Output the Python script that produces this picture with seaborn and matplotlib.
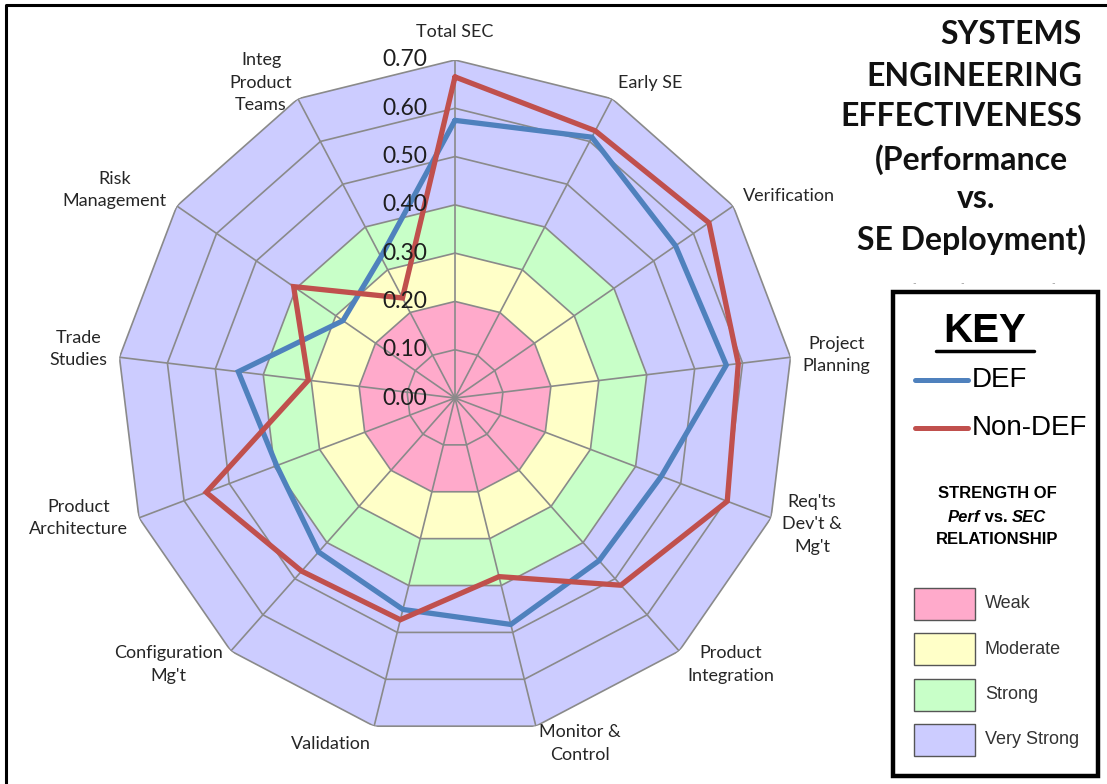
import numpy as np
import pandas as pd
import matplotlib
matplotlib.use("Agg")
import matplotlib.pyplot as plt
import seaborn as sns
from matplotlib.patches import Rectangle
from matplotlib.lines import Line2D

# ---------------- data ----------------
categories = ["Total SEC", "Early SE", "Verification", "Project\nPlanning",
              "Req'ts\nDev't &\nMg't", "Product\nIntegration", "Monitor &\nControl",
              "Validation", "Configuration\nMg't", "Product\nArchitecture",
              "Trade\nStudies", "Risk\nManagement", "Integ\nProduct\nTeams"]
def_values = [0.575, 0.610, 0.555, 0.566, 0.457, 0.450, 0.483,
              0.451, 0.426, 0.395, 0.452, 0.282, 0.330]
nondef_values = [0.665, 0.625, 0.639, 0.591, 0.603, 0.518, 0.381,
                 0.473, 0.479, 0.551, 0.306, 0.406, 0.234]
series_names = ["DEF", "Non-DEF"]
series_colors = {"DEF": "#4F81BD", "Non-DEF": "#C0504D"}
radial_ticks = [0.00, 0.10, 0.20, 0.30, 0.40, 0.50, 0.60, 0.70]
radial_labels = ["0.00", "0.10", "0.20", "0.30", "0.40", "0.50", "0.60", "0.70"]
band_names = ["Weak", "Moderate", "Strong", "Very Strong"]
band_upper = [0.20, 0.30, 0.40, 0.70]
band_colors = ["#FFAACB", "#FFFFC8", "#C8FFC8", "#CCCCFF"]
title_lines = ["SYSTEMS", "ENGINEERING", "EFFECTIVENESS", "(Performance", "vs.", "SE Deployment)"]

# ---------------- figure ----------------
sns.set_theme(style="white")
plt.rcParams['font.family'] = ['Lato', 'DejaVu Sans']

W, H = 1107, 784
fig = plt.figure(figsize=(W / 100, H / 100), dpi=100)
fig.patch.set_facecolor("white")
PX = 0.72  # points per pixel at 100 dpi


def fx(x):
    return x / W


def fy(y):
    return 1 - y / H


cx, cy, R = 455, 398, 338
ax = fig.add_axes([fx(cx - R), fy(cy + R), 2 * R / W, 2 * R / H], projection="polar")
ax.set_theta_zero_location("N")
ax.set_theta_direction(-1)
ax.patch.set_alpha(0)

N = len(categories)
theta = np.arange(N) * 2 * np.pi / N
theta_closed = np.append(theta, 2 * np.pi)

# bands
for upper, col in sorted(zip(band_upper, band_colors), reverse=True):
    ax.fill(theta_closed, [upper] * (N + 1), color=col, linewidth=0, zorder=1)

grid_col = "#8A8A8A"
for r in radial_ticks[1:]:
    ax.plot(theta_closed, [r] * (N + 1), color=grid_col, lw=1.2, zorder=2)
for t in theta:
    ax.plot([t, t], [0, radial_ticks[-1]], color=grid_col, lw=1.2, zorder=2)

# series
df = pd.DataFrame({
    "theta": np.concatenate([theta_closed, theta_closed]),
    "value": def_values + [def_values[0]] + nondef_values + [nondef_values[0]],
    "series": ["DEF"] * (N + 1) + ["Non-DEF"] * (N + 1),
})
sns.lineplot(data=df, x="theta", y="value", hue="series", hue_order=series_names,
             palette=series_colors, sort=False, estimator=None, linewidth=3.8,
             ax=ax, legend=False, zorder=4)
for ln in ax.lines[-2:]:
    ln.set_solid_joinstyle("miter")

ax.set_ylim(0, radial_ticks[-1])
ax.grid(False)
ax.set_xticks([])
ax.set_yticks([])
ax.set_xlabel("")
ax.set_ylabel("")
ax.spines["polar"].set_visible(False)

# radial labels
for r, lab in zip(radial_ticks, radial_labels):
    ax.annotate(lab, xy=(0, r), xytext=(-28 * PX, 0), textcoords="offset points",
                ha="right", va="center", fontsize=16.5, color="#1E1E1E", zorder=6)

# category labels
for t, cat in zip(theta, categories):
    s, c = np.sin(t), np.cos(t)
    if abs(s) < 0.2:
        ha = "center"
        va = "bottom" if c > 0 else "top"
        off = (0, 20 * PX * np.sign(c))
    else:
        ha = "left" if s > 0 else "right"
        va = "center"
        off = (12 * PX * s, 18 * PX * c + (6 * PX if s < -0.2 and abs(c) < 0.7 else 0))
    ax.annotate(cat, xy=(t, radial_ticks[-1]), xytext=off,
                textcoords="offset points", ha=ha, va=va, fontsize=13,
                color="#262626", multialignment="center", linespacing=1.5,
                annotation_clip=False)

# ---------------- title ----------------
title_pos = [(1082, 35, "right"), (1082, 76, "right"), (1082, 117, "right"),
             (1068, 160, "right"), (976, 199, "center"), (1086, 240, "right")]
for line, (x, y, ha) in zip(title_lines, title_pos):
    fig.text(fx(x), fy(y), line, ha=ha, va="center", fontsize=23,
             fontweight="bold", color="#111111")
for x in [914, 962, 1053]:
    fig.text(fx(x), fy(284), "-", ha="center", va="center", fontsize=7, color="#999999")

# ---------------- key box ----------------
fig.add_artist(Rectangle((fx(893), fy(776)), (1098 - 893) / W, (776 - 292) / H,
                         transform=fig.transFigure, fill=False, lw=3.2,
                         edgecolor="black"))
fig.text(fx(985), fy(331), "KEY", ha="center", va="center", fontsize=29,
         fontweight="bold", family="Liberation Sans", color="black")
fig.add_artist(Line2D([fx(936), fx(1034)], [fy(351), fy(351)], lw=2.5,
                      color="black", transform=fig.transFigure))
for i, name in enumerate(series_names):
    y = 380 + i * 48
    fig.add_artist(Line2D([fx(915), fx(968)], [fy(y), fy(y)], lw=3.6,
                          color=series_colors[name], solid_capstyle="round",
                          transform=fig.transFigure))
    fig.text(fx(972), fy(y), name, ha="left", va="center", fontsize=20,
             family="Liberation Sans", color="black")

fig.text(fx(997), fy(494), "STRENGTH OF", ha="center", va="center", fontsize=12,
         fontweight="bold", family="Liberation Sans", color="black")
fig.text(fx(997), fy(540), "RELATIONSHIP", ha="center", va="center", fontsize=12,
         fontweight="bold", family="Liberation Sans", color="black")

# mixed-style middle line
renderer = fig.canvas.get_renderer()
parts = [("Perf", "italic"), (" vs. ", "normal"), ("SEC", "italic")]
objs = []
for txt, st in parts:
    o = fig.text(0, fy(517), txt, ha="left", va="center", fontsize=12,
                 fontweight="bold", fontstyle=st, family="Liberation Sans",
                 color="black")
    objs.append(o)
widths = [o.get_window_extent(renderer).width for o in objs]
x0 = 997 - sum(widths) / 2
for o, w in zip(objs, widths):
    o.set_x(fx(x0))
    x0 += w

# swatches
for i, (name, col) in enumerate(zip(band_names, band_colors)):
    yc = 604 + i * 45.3
    fig.add_artist(Rectangle((fx(914), fy(yc + 16)), 61 / W, 32 / H,
                             transform=fig.transFigure, facecolor=col,
                             edgecolor="#555555", lw=1.0))
    fig.text(fx(985), fy(yc), name, ha="left", va="center", fontsize=13,
             family="Liberation Sans", color="#333333")

# outer frame (left/top)
fig.add_artist(Line2D([fx(6), fx(6), fx(1110)], [fy(790), fy(5), fy(5)], lw=2.2,
                      color="black", transform=fig.transFigure))

fig.savefig("out.png", dpi=100, facecolor="white")
